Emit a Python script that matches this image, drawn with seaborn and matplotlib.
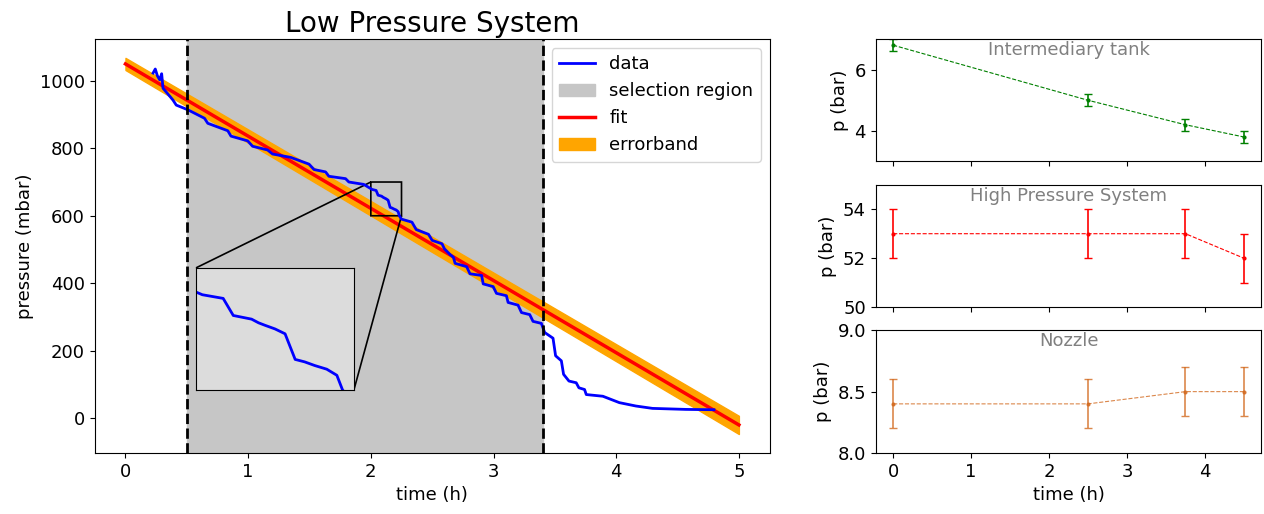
import numpy as np
import pandas as pd
import matplotlib
matplotlib.use('Agg')
import matplotlib.pyplot as plt
import seaborn as sns

plt.rcParams['font.size'] = 13

# low pressure system readings (time in h, pressure in mbar)
lp_time = [0.225, 0.243, 0.26, 0.279, 0.295, 0.306, 0.341, 0.387, 0.414, 0.509,
           0.644, 0.671, 0.834, 0.86, 0.996, 1.036, 1.158, 1.199, 1.347, 1.496,
           1.537, 1.631, 1.658, 1.794, 1.821, 1.942, 2.010, 2.043, 2.059, 2.088,
           2.099, 2.109, 2.125, 2.141, 2.157, 2.172, 2.188, 2.207, 2.223, 2.232,
           2.25, 2.335, 2.37, 2.47, 2.5, 2.58, 2.6, 2.646, 2.673, 2.687,
           2.781, 2.808, 2.903, 2.916, 2.997, 3.024, 3.105, 3.119, 3.2, 3.228,
           3.295, 3.322, 3.39, 3.417, 3.485, 3.506, 3.553, 3.571, 3.615, 3.674,
           3.696, 3.742, 3.756, 3.891, 4.026, 4.161, 4.296, 4.567, 4.797]
lp_pressure = [1023, 1035, 1015, 1003, 1021, 978, 963, 943, 928, 914,
               889, 874, 852, 836, 822, 806, 795, 783, 773, 753,
               737, 730, 717, 710, 700, 693, 678, 675, 661, 658,
               655, 653, 650, 646, 625, 623, 620, 617, 612, 600,
               590, 581, 559, 545, 527, 517, 502, 485, 477, 459,
               449, 428, 423, 398, 390, 370, 363, 343, 335, 313,
               307, 287, 281, 254, 237, 185, 170, 130, 110, 105,
               90, 85, 70, 65, 46, 36, 29, 26, 25]

# linear fit and its error band
fit_time = [0, 5]
fit_pressure = [1050, -20]
band_lower = [1032, -47]
band_upper = [1068, 7]
selection = (0.5, 3.4)

# sensor readings for the other systems
t_sensor = [0, 2.5, 3.75, 4.5]
tank_p = [6.8, 5.0, 4.2, 3.8]
tank_err = [0.2, 0.2, 0.2, 0.2]
hp_p = [53, 53, 53, 52]
hp_err = [1, 1, 1, 1]
nozzle_p = [8.4, 8.4, 8.5, 8.5]
nozzle_err = [0.2, 0.2, 0.2, 0.2]

df = pd.DataFrame({'time': lp_time, 'pressure': lp_pressure})

fig = plt.figure(figsize=(12.64, 5.14), dpi=100)
gs = fig.add_gridspec(3, 2, width_ratios=[675, 386], left=0.075, right=0.998,
                      top=0.924, bottom=0.119, wspace=0.2, hspace=0.19)
ax = fig.add_subplot(gs[:, 0])

sns.lineplot(data=df, x='time', y='pressure', ax=ax, color='blue', lw=2,
             label='data', zorder=5)
ax.axvspan(*selection, color='#c6c6c6', label='selection region', zorder=0)
sns.lineplot(x=fit_time, y=fit_pressure, ax=ax, color='red', lw=2.5, label='fit', zorder=4)
ax.fill_between(fit_time, band_lower, band_upper, color='orange', label='errorband', zorder=3)
for x in selection:
    ax.axvline(x, color='black', ls='--', lw=2, zorder=6)

ax.set_title('Low Pressure System', fontsize=20, pad=5)
ax.set_xlabel('time (h)')
ax.set_ylabel('pressure (mbar)')
ax.legend(loc='upper right')

axins = ax.inset_axes([0.15, 0.152, 0.234, 0.295])
axins.set_facecolor('#dcdcdc')
sns.lineplot(data=df, x='time', y='pressure', ax=axins, color='blue', lw=2)
axins.set_xlim(2.0, 2.25)
axins.set_ylim(600, 700)
axins.set_xticks([])
axins.set_yticks([])
axins.set_xlabel('')
axins.set_ylabel('')
ax.indicate_inset_zoom(axins, edgecolor='black', alpha=1, lw=1.2)

panels = [
    ('Intermediary tank', tank_p, tank_err, 'green', (3, 7)),
    ('High Pressure System', hp_p, hp_err, 'red', (50, 55)),
    ('Nozzle', nozzle_p, nozzle_err, 'chocolate', (8, 9)),
]
right_axes = []
for i, (name, vals, errs, col, lims) in enumerate(panels):
    a = fig.add_subplot(gs[i, 1], sharex=right_axes[0] if right_axes else None)
    a.errorbar(t_sensor, vals, yerr=errs, color=col, alpha=0.8 if col == 'chocolate' else 1,
               ls='--', lw=0.8, marker='.', ms=4, capsize=3, elinewidth=1.2)
    a.set_ylim(*lims)
    a.set_ylabel('p (bar)')
    a.text(0.5, 0.985, name, transform=a.transAxes, ha='center', va='top',
           color='gray', fontsize=13)
    if i < 2:
        a.tick_params(labelbottom=False)
    right_axes.append(a)

right_axes[0].set_yticks([4, 6])
right_axes[1].set_yticks([50, 52, 54])
right_axes[2].set_yticks([8.0, 8.5, 9.0])
right_axes[2].set_xticks([0, 1, 2, 3, 4])
right_axes[2].set_xlabel('time (h)')

plt.savefig('out.png')
plt.close()
